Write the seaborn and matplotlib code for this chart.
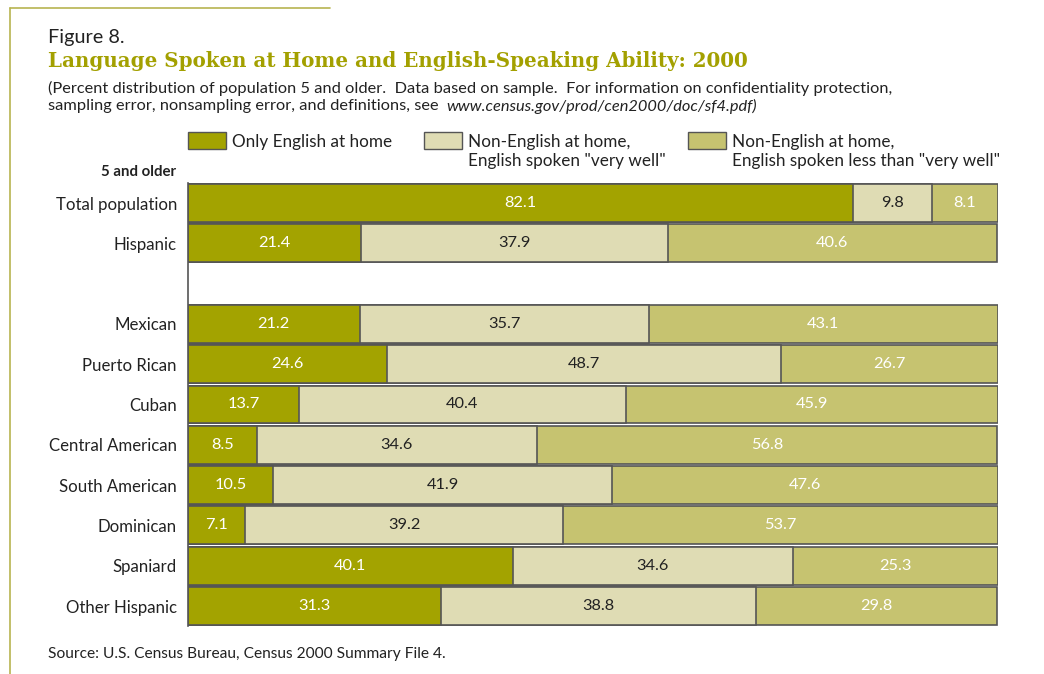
import matplotlib
matplotlib.use("Agg")
import matplotlib.pyplot as plt
from matplotlib.patches import Rectangle
from matplotlib.lines import Line2D
import seaborn as sns
import pandas as pd
import numpy as np

categories = ["Total population", "Hispanic", "Mexican", "Puerto Rican", "Cuban",
              "Central American", "South American", "Dominican", "Spaniard", "Other Hispanic"]
only_english = [82.1, 21.4, 21.2, 24.6, 13.7, 8.5, 10.5, 7.1, 40.1, 31.3]
very_well = [9.8, 37.9, 35.7, 48.7, 40.4, 34.6, 41.9, 39.2, 34.6, 38.8]
less_well = [8.1, 40.6, 43.1, 26.7, 45.9, 56.8, 47.6, 53.7, 25.3, 29.8]
order = ["Total population", "Hispanic", " ", "Mexican", "Puerto Rican", "Cuban",
         "Central American", "South American", "Dominican", "Spaniard", "Other Hispanic"]
legend_labels = ["Only English at home",
                 "Non-English at home,\nEnglish spoken \"very well\"",
                 "Non-English at home,\nEnglish spoken less than \"very well\""]

C_DARK = "#A3A300"
C_LIGHT = "#DFDCB4"
C_MID = "#C6C370"
EDGE = "#555555"
TITLE_C = "#A3A000"
TXT = "#222222"
FRAME = "#B8B450"

sns.set_theme(style="white")
plt.rcParams["font.family"] = ["Lato", "DejaVu Sans"]

df = pd.DataFrame({"cat": categories, "a": only_english, "b": very_well, "c": less_well})
df["ab"] = df["a"] + df["b"]
df["abc"] = df["ab"] + df["c"]

W, H = 1044, 674
fig = plt.figure(figsize=(W / 100, H / 100), dpi=100)
ax = fig.add_axes([188 / W, 1 - 626.15 / H, 810 / W, (626.15 - 182.85) / H])

for col, color in [("abc", C_MID), ("ab", C_LIGHT), ("a", C_DARK)]:
    sns.barplot(data=df, x=col, y="cat", order=order, orient="h", color=color,
                saturation=1, width=0.94, edgecolor=EDGE, linewidth=1.2, ax=ax)

ax.set_xlim(0, 100.05)
ax.set_xlabel("")
ax.set_ylabel("")
ax.set_xticks([])
ax.tick_params(axis="y", length=0, pad=8, labelsize=12.1, labelcolor=TXT)
for s in ["top", "right", "bottom"]:
    ax.spines[s].set_visible(False)
ax.spines["left"].set_color(EDGE)
ax.spines["left"].set_linewidth(1.2)

# value labels
for _, r in df.iterrows():
    yi = order.index(r["cat"])
    ax.text(r["a"] / 2, yi, f"{r['a']:.1f}", ha="center", va="center", color="white", fontsize=11.8)
    ax.text(r["a"] + r["b"] / 2, yi, f"{r['b']:.1f}", ha="center", va="center", color=TXT, fontsize=11.8)
    ax.text(r["ab"] + r["c"] / 2, yi, f"{r['c']:.1f}", ha="center", va="center", color="white", fontsize=11.8)

def fx(px):
    return px / W

def fy(py):
    return 1 - py / H

# frame lines
fig.add_artist(Line2D([fx(10), fx(10)], [fy(8), fy(674)], color=FRAME, lw=1.2))
fig.add_artist(Line2D([fx(10), fx(330)], [fy(8), fy(8)], color=FRAME, lw=1.2))

fig.text(fx(48), fy(38), "Figure 8.", fontsize=14.3, color=TXT, va="center", ha="left")
fig.text(fx(48), fy(61), "Language Spoken at Home and English-Speaking Ability: 2000",
         fontsize=14.3, color=TITLE_C, fontweight="bold", family=["DejaVu Serif"],
         va="center", ha="left")
fig.text(fx(48), fy(88), "(Percent distribution of population 5 and older.  Data based on sample.  "
         "For information on confidentiality protection,", fontsize=11.8, color=TXT, va="center", ha="left")
t1 = fig.text(fx(48), fy(106), "sampling error, nonsampling error, and definitions, see ", fontsize=11.8,
              color=TXT, va="center", ha="left")
fig.canvas.draw()
bb = t1.get_window_extent()
fig.text(bb.x1 / W + 3 / W, fy(106), "www.census.gov/prod/cen2000/doc/sf4.pdf)", fontsize=11.8, color=TXT,
         style="italic", va="center", ha="left")

# legend
for (x0, color, label) in [(188, C_DARK, legend_labels[0]), (424, C_LIGHT, legend_labels[1]),
                           (688, C_MID, legend_labels[2])]:
    fig.add_artist(Rectangle((fx(x0), fy(149)), 38 / W, 17 / H, transform=fig.transFigure,
                             facecolor=color, edgecolor=EDGE, lw=1.0))
    fig.text(fx(x0 + 44), fy(134.5), label, fontsize=12.3, color=TXT, va="top", ha="left",
             linespacing=1.2)

fig.text(fx(176), fy(172), "5 and older", fontsize=10.8, fontweight="bold", color=TXT,
         va="center", ha="right")
fig.text(fx(48), fy(654), "Source: U.S. Census Bureau, Census 2000 Summary File 4.", fontsize=11.2,
         color=TXT, va="center", ha="left")

fig.savefig("out.png", dpi=100, facecolor="white")
